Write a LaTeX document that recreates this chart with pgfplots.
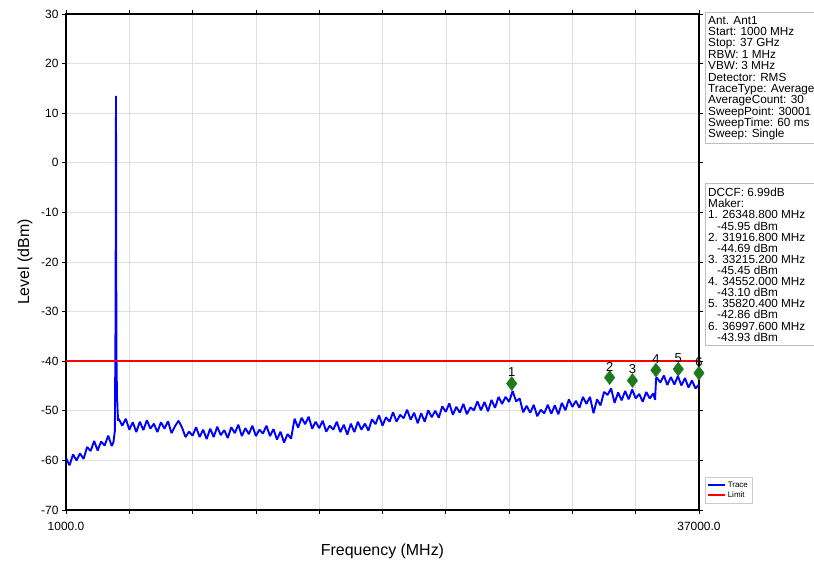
\documentclass[border=0pt]{standalone}
\usepackage{pgfplots}
\pgfplotsset{compat=1.18}
\usepackage{fontspec}
\setmainfont{Liberation Sans}
\definecolor{mkgreen}{rgb}{0.12,0.48,0.12}
\begin{document}
\begin{tikzpicture}
\useasboundingbox (0,0) rectangle (814bp,563bp);
\clip (0,0) rectangle (814bp,563bp);
\begin{axis}[
  at={(66bp,53bp)}, anchor=south west,
  width=633bp, height=496bp, scale only axis,
  xmin=1000, xmax=37000, ymin=-70, ymax=30,
  scaled x ticks=false,
  xtick={1000,4600,8200,11800,15400,19000,22600,26200,29800,33400,37000},
  xticklabels={1000.0,,,,,,,,,,37000.0},
  ytick={-70,-60,...,30},
  grid=major, grid style={gray!25, line width=0.6bp},
  axis line style={black, line width=1.2bp},
  tick align=outside, major tick length=4bp,
  tick style={black, line width=0.8bp},
  tick label style={font=\fontsize{12}{14}\selectfont},
  xticklabel style={yshift=-5bp},
  /pgf/number format/assume math mode=true,
  xlabel={Frequency (MHz)}, ylabel={Level (dBm)},
  label style={font=\fontsize{16}{18}\selectfont},
  xlabel style={yshift=-6bp},
  ylabel style={yshift=2bp},
  legend style={at={(1.009,0.014)}, anchor=south west, draw=gray!40, fill=white,
    font=\fontsize{8}{9}\selectfont, inner sep=2bp, row sep=-1bp},
  legend cell align=left,
]
\addplot[color=blue, line width=1.9bp, line join=bevel] coordinates {
(1000,-59.5) (1200,-61.0) (1400,-58.8) (1600,-60.0) (1800,-58.6) (2000,-59.7)
(2200,-57.3) (2400,-58.1) (2600,-56.1) (2800,-58.0) (3000,-56.2) (3200,-57.0)
(3400,-55.0) (3600,-57.1) (3700,-56.3) (3780,-54.0) (3820,-30.0) (3843,13.5)
(3866,-38.0) (3900,-47.0) (3960,-52.0) (4000,-51.6) (4200,-53.0) (4400,-51.6)
(4600,-53.8) (4800,-52.3) (5000,-54.3) (5200,-52.2) (5400,-53.9) (5600,-51.9)
(5800,-53.6) (6000,-52.6) (6200,-54.3) (6400,-52.3) (6600,-53.6) (6800,-52.1)
(7000,-54.5) (7200,-53.1) (7400,-52.0) (7600,-53.4) (7800,-55.3) (8000,-54.2)
(8200,-55.0) (8400,-53.3) (8600,-55.3) (8800,-53.8) (9000,-55.7) (9200,-53.6)
(9400,-55.3) (9600,-53.2) (9800,-54.9) (10000,-53.9) (10200,-55.5) (10400,-53.3)
(10600,-54.5) (10800,-52.8) (11000,-55.1) (11200,-53.5) (11400,-54.7) (11600,-53.0)
(11800,-55.1) (12000,-53.8) (12200,-54.6) (12400,-53.0) (12600,-55.1) (12800,-53.7)
(13000,-55.8) (13200,-54.2) (13400,-56.4) (13600,-54.7) (13800,-55.6) (14000,-51.6)
(14200,-53.4) (14400,-51.4) (14600,-52.7) (14800,-51.2) (15000,-53.6) (15200,-52.2)
(15400,-53.5) (15600,-52.0) (15800,-54.2) (16000,-53.0) (16200,-53.8) (16400,-52.2)
(16600,-54.3) (16800,-52.8) (17000,-54.8) (17200,-52.6) (17400,-54.3) (17600,-52.2)
(17800,-53.8) (18000,-52.6) (18200,-54.0) (18400,-51.7) (18600,-52.7) (18800,-50.9)
(19000,-53.0) (19200,-51.3) (19400,-52.2) (19600,-50.3) (19800,-52.2) (20000,-50.8)
(20200,-51.5) (20400,-49.8) (20600,-51.8) (20800,-50.4) (21000,-52.5) (21200,-50.5)
(21400,-52.2) (21600,-49.9) (21800,-51.3) (22000,-50.0) (22200,-51.4) (22400,-49.1)
(22600,-50.2) (22800,-48.5) (23000,-50.8) (23200,-49.2) (23400,-50.4) (23600,-48.6)
(23800,-50.7) (24000,-49.3) (24200,-49.9) (24400,-48.1) (24600,-49.9) (24800,-48.2)
(25000,-50.1) (25200,-47.8) (25400,-49.4) (25600,-47.2) (25800,-48.6) (26000,-47.2)
(26200,-48.2) (26400,-46.0) (26600,-48.1) (26800,-47.5) (27000,-50.3) (27200,-49.0)
(27400,-50.4) (27600,-48.8) (27800,-51.1) (28000,-49.8) (28200,-50.5) (28400,-48.8)
(28600,-50.6) (28800,-48.9) (29000,-50.7) (29200,-48.4) (29400,-49.9) (29600,-47.7)
(29800,-49.2) (30000,-48.0) (30200,-49.4) (30400,-47.2) (30600,-48.6) (30800,-47.2)
(31000,-50.5) (31200,-47.7) (31400,-48.9) (31600,-46.2) (31800,-46.8) (32000,-45.5)
(32200,-48.4) (32400,-46.3) (32600,-47.9) (32800,-46.0) (33000,-47.7) (33200,-45.7)
(33400,-47.5) (33600,-46.6) (33800,-48.2) (34000,-46.2) (34200,-47.5) (34400,-46.5)
(34500,-47.8) (34560,-43.5) (34600,-43.3) (34800,-44.3) (35000,-42.9) (35200,-44.8)
(35400,-43.2) (35600,-44.7) (35800,-43.0) (36000,-44.9) (36200,-43.4) (36400,-45.3)
(36600,-43.9) (36800,-45.5) (37000,-44.7)
};
\addlegendentry{Trace}
\addplot[color=red, line width=1.6bp] coordinates {(1000,-40) (37000,-40)};
\addlegendentry{Limit}
\addplot[only marks, mark=diamond*, mark size=7bp, color=mkgreen,
  nodes near coords, point meta=explicit symbolic,
  every node near coord/.append style={anchor=south, yshift=3bp, black,
    font=\fontsize{13}{14}\selectfont},
  forget plot] table[meta=label, row sep=\\] {
x y label \\
26348.8 -44.5 1 \\
31916.8 -43.3 2 \\
33215.2 -43.9 3 \\
34552.0 -41.8 4 \\
35820.4 -41.6 5 \\
36997.6 -42.4 6 \\
};
\end{axis}
\draw[overlay, gray!50, line width=0.6bp] (705bp,551bp) rectangle (830bp,420bp);
\node[overlay, anchor=north west, inner sep=0pt, align=left,
  font=\fontsize{11.8}{11.4}\selectfont] at (708bp,547bp) {Ant. Ant1\\
Start: 1000 MHz\\
Stop: 37 GHz\\
RBW: 1 MHz\\
VBW: 3 MHz\\
Detector: RMS\\
TraceType: Average\\
AverageCount: 30\\
SweepPoint: 30001\\
SweepTime: 60 ms\\
Sweep: Single};
\draw[overlay, gray!50, line width=0.6bp] (705bp,380bp) rectangle (830bp,218bp);
\node[overlay, anchor=north west, inner sep=0pt, align=left,
  font=\fontsize{11.8}{11.15}\selectfont] at (708bp,375bp) {DCCF: 6.99dB\\
Maker:\\
1. 26348.800 MHz\\
\hspace*{9bp}-45.95 dBm\\
2. 31916.800 MHz\\
\hspace*{9bp}-44.69 dBm\\
3. 33215.200 MHz\\
\hspace*{9bp}-45.45 dBm\\
4. 34552.000 MHz\\
\hspace*{9bp}-43.10 dBm\\
5. 35820.400 MHz\\
\hspace*{9bp}-42.86 dBm\\
6. 36997.600 MHz\\
\hspace*{9bp}-43.93 dBm};
\end{tikzpicture}
\end{document}
